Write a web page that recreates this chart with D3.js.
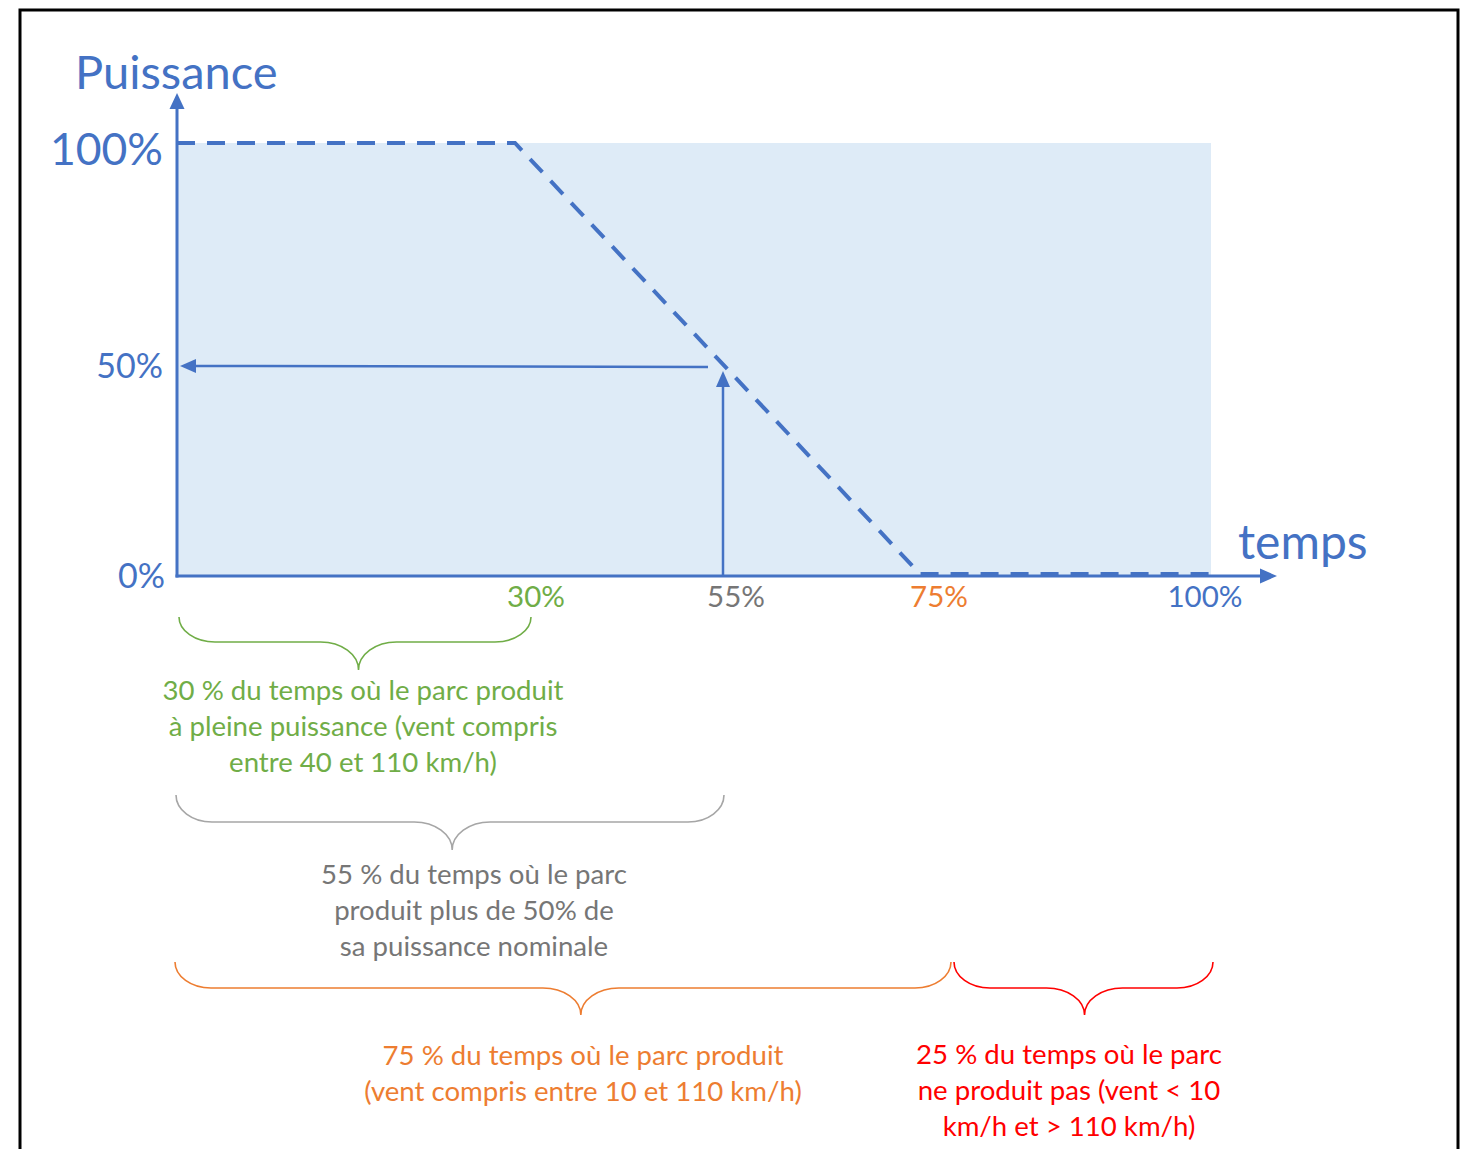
<!DOCTYPE html>
<html>
<head>
<meta charset="utf-8">
<script src="https://cdn.jsdelivr.net/npm/d3@7"></script>
<style>
html,body{margin:0;padding:0;background:#fff;}
svg{display:block;font-family:Lato,"Open Sans",sans-serif;}
</style>
</head>
<body>
<svg id="chart" width="1466" height="1149"></svg>
<script>
// ---- data ----
const powerCurveTime  = [0, 30, 75, 100];      // % du temps
const powerCurveLevel = [100, 100, 0, 0];      // % de puissance
const xTickValues = [30, 55, 75, 100];
const xTickLabels = ["30%", "55%", "75%", "100%"];
const yTickValues = [0, 50, 100];
const yTickLabels = ["0%", "50%", "100%"];
const readTime = 55, readLevel = 50;
const braceFrom = [0, 0, 0, 75];
const braceTo   = [30, 55, 75, 100];
const braceTexts = [
  ["30 % du temps où le parc produit", "à pleine puissance (vent compris", "entre 40 et 110 km/h)"],
  ["55 % du temps où le parc", "produit plus de 50% de", "sa puissance nominale"],
  ["75 % du temps où le parc produit", "(vent compris entre 10 et 110 km/h)"],
  ["25 % du temps où le parc", "ne produit pas (vent < 10", "km/h et > 110 km/h)"]
];
const yAxisTitle = "Puissance";
const xAxisTitle = "temps";

// ---- styles ----
const BLUE = "#4472C4", FILL = "#DEEBF7";
const tickColors = ["#70AD47", "#767676", "#ED7D31", BLUE];
const braceColors = ["#70AD47", "#A6A6A6", "#ED7D31", "#FF0000"];
const braceTextColors = ["#70AD47", "#767676", "#ED7D31", "#FF0000"];

const svg = d3.select("#chart");

// schematic (non-uniform) scales, as in the original drawing
const x = d3.scaleLinear().domain([0, 30, 55, 75, 100]).range([177, 515, 723, 920, 1211]);
const y = d3.scaleLinear().domain([0, 50, 100]).range([576, 366, 143]);

// frame
svg.append("rect").attr("x", 20).attr("y", 10).attr("width", 1438).attr("height", 1170)
  .attr("fill", "none").attr("stroke", "#000").attr("stroke-width", 3);

// shaded area
svg.append("rect").attr("x", x(0)).attr("y", y(100))
  .attr("width", x(100) - x(0)).attr("height", y(0) - y(100)).attr("fill", FILL);

// axes
svg.append("line").attr("x1", x(0)).attr("x2", x(0)).attr("y1", y(0) + 1.5).attr("y2", 104)
  .attr("stroke", BLUE).attr("stroke-width", 3);
svg.append("path").attr("d", `M${x(0)},93 L${x(0) - 7.5},109 L${x(0) + 7.5},109 Z`).attr("fill", BLUE);
svg.append("line").attr("x1", x(0) - 1.5).attr("x2", 1264).attr("y1", y(0)).attr("y2", y(0))
  .attr("stroke", BLUE).attr("stroke-width", 3);
svg.append("path").attr("d", `M1277,${y(0)} L1260,${y(0) - 7.5} L1260,${y(0) + 7.5} Z`).attr("fill", BLUE);

// dashed power curve
const pts = powerCurveTime.map((t, i) => [t, powerCurveLevel[i]]);
const line = d3.line().x(d => x(d[0]) + (d[0] === 100 ? 6 : 0)).y(d => y(d[1]) - (d[1] === 0 ? 2 : 0));
svg.append("path").datum(pts).attr("d", line).attr("fill", "none")
  .attr("stroke", BLUE).attr("stroke-width", 4).attr("stroke-dasharray", "18,12");

// reading arrows
svg.append("line").attr("x1", x(readTime)).attr("x2", x(readTime))
  .attr("y1", y(0)).attr("y2", y(readLevel) + 16).attr("stroke", BLUE).attr("stroke-width", 2.5);
svg.append("path").attr("d", `M${x(readTime)},${y(readLevel) + 5} L${x(readTime) - 7},${y(readLevel) + 21} L${x(readTime) + 7},${y(readLevel) + 21} Z`).attr("fill", BLUE);
svg.append("line").attr("x1", x(readTime) - 15).attr("x2", x(0) + 16)
  .attr("y1", y(readLevel) + 1).attr("y2", y(readLevel)).attr("stroke", BLUE).attr("stroke-width", 2.5);
svg.append("path").attr("d", `M${x(0) + 3},${y(readLevel)} L${x(0) + 19},${y(readLevel) - 7} L${x(0) + 19},${y(readLevel) + 7} Z`).attr("fill", BLUE);

// axis titles
svg.append("text").attr("x", 75).attr("y", 89).attr("fill", BLUE)
  .attr("font-size", 47).text(yAxisTitle);
svg.append("text").attr("x", 1238).attr("y", 559).attr("fill", BLUE)
  .attr("font-size", 48).text(xAxisTitle);

// y tick labels
svg.selectAll(".ytick").data(yTickValues).join("text")
  .attr("text-anchor", "end")
  .attr("x", d => d === 0 ? 165 : 163)
  .attr("y", d => y(d) + (d === 100 ? 22 : 12))
  .attr("font-size", d => d === 100 ? 44.5 : 34)
  .attr("fill", BLUE)
  .text((d, i) => yTickLabels[i]);

// x tick labels
const xLabelShift = [21, 13, 19, -6];
svg.selectAll(".xtick").data(xTickValues).join("text")
  .attr("text-anchor", "middle")
  .attr("x", (d, i) => x(d) + xLabelShift[i])
  .attr("y", 607)
  .attr("font-size", 29.5)
  .attr("fill", (d, i) => tickColors[i])
  .text((d, i) => xTickLabels[i]);

// braces
function bracePath(x0, x1, xt, yTop, yLine, yTip) {
  const re = 36, rt = 38;
  return `M${x0},${yTop} A${re},${yLine - yTop} 0 0 0 ${x0 + re},${yLine}` +
    ` L${xt - rt},${yLine} A${rt},${yTip - yLine} 0 0 1 ${xt},${yTip}` +
    ` A${rt},${yTip - yLine} 0 0 1 ${xt + rt},${yLine}` +
    ` L${x1 - re},${yLine} A${re},${yLine - yTop} 0 0 0 ${x1},${yTop}`;
}
const braceLayout = [
  {dx0: 2, dx1: 16, tip: 0.51, yTop: 617, yLine: 642, yTip: 670, tx: 363, ty: 700},
  {dx0: -1, dx1: 1, tip: 0.504, yTop: 795, yLine: 822, yTip: 850, tx: 474, ty: 884},
  {dx0: -2, dx1: 31, tip: 0.523, yTop: 962, yLine: 988, yTip: 1015, tx: 583, ty: 1065},
  {dx0: 34, dx1: 2, tip: 0.504, yTop: 962, yLine: 988, yTip: 1015, tx: 1069, ty: 1064}
];
braceFrom.forEach((f, i) => {
  const L = braceLayout[i];
  const x0 = x(f) + L.dx0, x1 = x(braceTo[i]) + L.dx1;
  const xt = x0 + (x1 - x0) * L.tip;
  svg.append("path").attr("d", bracePath(x0, x1, xt, L.yTop, L.yLine, L.yTip))
    .attr("fill", "none").attr("stroke", braceColors[i]).attr("stroke-width", 1.6);
  const t = svg.append("text").attr("text-anchor", "middle").attr("font-size", 27.6)
    .attr("fill", braceTextColors[i]);
  braceTexts[i].forEach((s, j) => {
    t.append("tspan").attr("x", L.tx).attr("y", L.ty + j * 36).text(s);
  });
});
</script>
</body>
</html>
